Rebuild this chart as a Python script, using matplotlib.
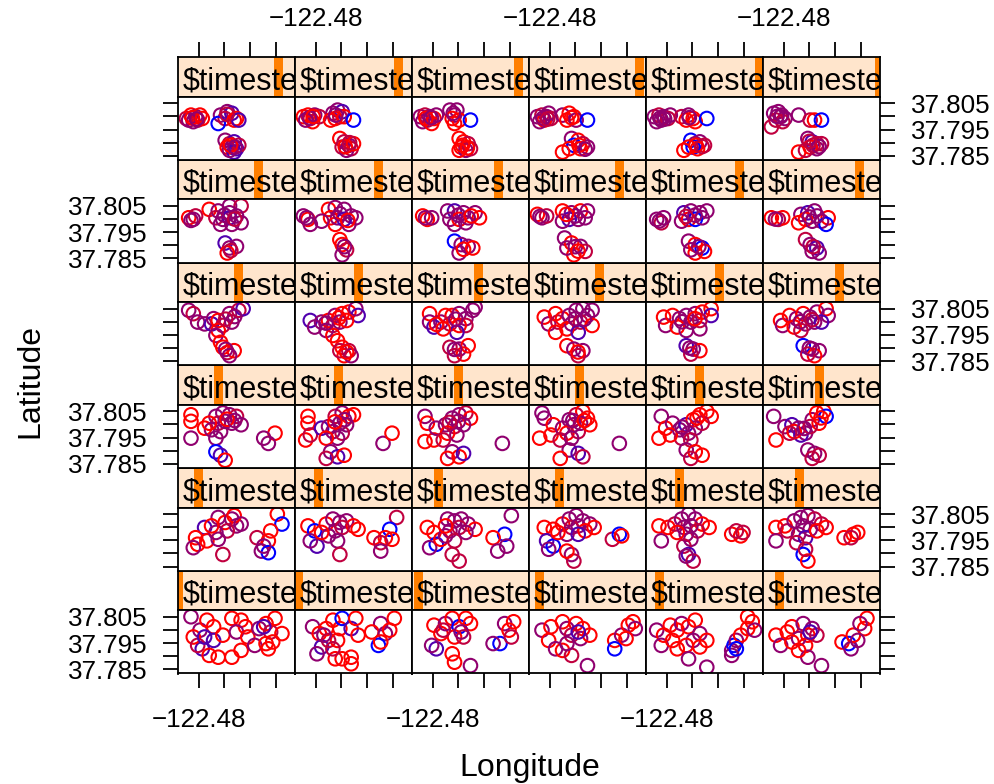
import matplotlib
matplotlib.use("Agg")
import matplotlib.pyplot as plt
from matplotlib.patches import Rectangle

plt.rcParams['font.family'] = ['Liberation Sans', 'DejaVu Sans']

# ---------------- data ----------------
timesteps = list(range(1, 37))
strip_label = "\\$timeste"          # the visible (clipped) part of "$timestep"
lon_ticks = [-122.48, -122.47, -122.46, -122.45]
lon_ticklabels = ["\u2212122.48", "", "", ""]
lat_ticks = [37.785, 37.790, 37.795, 37.800, 37.805]
lat_ticklabels = ["37.785", "", "37.795", "", "37.805"]
lon_range = (-122.48805, -122.44253)
lat_range = (37.7834, 37.8075)
step_range = (1, 36)
group_colors = ["#FF0000", "#C0003F", "#90006F", "#5000AF", "#0000FF"]

# each point: (longitude, latitude, colour group)
p01 = [(-122.4795, 37.7999, 2), (-122.4786, 37.7928, 3), (-122.4768, 37.8037, 0), (-122.4742, 37.8012, 0),
       (-122.4742, 37.7960, 3), (-122.4821, 37.7973, 0), (-122.4804, 37.7941, 1), (-122.4759, 37.7903, 0),
       (-122.4724, 37.7896, 0), (-122.4671, 37.7896, 0), (-122.4706, 37.7980, 0), (-122.4671, 37.8044, 0),
       (-122.4635, 37.8037, 0), (-122.4618, 37.8012, 0), (-122.4653, 37.7992, 2), (-122.4609, 37.7973, 0),
       (-122.4635, 37.7922, 0), (-122.4565, 37.8005, 2), (-122.4538, 37.8024, 0), (-122.4520, 37.7992, 1),
       (-122.4503, 37.8044, 0), (-122.4476, 37.7986, 0), (-122.4582, 37.7941, 2), (-122.4538, 37.7948, 0),
       (-122.4529, 37.7928, 0), (-122.4512, 37.7954, 0), (-122.4547, 37.8012, 3), (-122.4830, 37.8050, 2),
       (-122.4777, 37.7973, 3)]
p02 = [(-122.4812, 37.8012, 2), (-122.4786, 37.7986, 0), (-122.4777, 37.7935, 3), (-122.4795, 37.7909, 2),
       (-122.4759, 37.8005, 0), (-122.4733, 37.8037, 0), (-122.4706, 37.8005, 0), (-122.4697, 37.8044, 4),
       (-122.4662, 37.8005, 3), (-122.4644, 37.8044, 0), (-122.4635, 37.7980, 0), (-122.4750, 37.7960, 1),
       (-122.4715, 37.7960, 0), (-122.4724, 37.7890, 0), (-122.4697, 37.7890, 0), (-122.4662, 37.7896, 0),
       (-122.4662, 37.7871, 0), (-122.4733, 37.7928, 1), (-122.4547, 37.8024, 2), (-122.4582, 37.7992, 0),
       (-122.4529, 37.7986, 2), (-122.4494, 37.8044, 0), (-122.4512, 37.7999, 0), (-122.4556, 37.7941, 4),
       (-122.4547, 37.7954, 0), (-122.4768, 37.7980, 2)]
p03 = [(-122.4795, 37.8018, 0), (-122.4768, 37.7986, 0), (-122.4786, 37.7928, 3), (-122.4804, 37.7941, 2),
       (-122.4750, 37.8024, 2), (-122.4724, 37.8044, 0), (-122.4697, 37.8012, 4), (-122.4671, 37.8044, 0),
       (-122.4653, 37.8024, 0), (-122.4715, 37.7973, 0), (-122.4680, 37.7973, 1), (-122.4724, 37.7909, 0),
       (-122.4715, 37.7877, 0), (-122.4653, 37.7864, 2), (-122.4520, 37.8024, 2), (-122.4485, 37.8031, 0),
       (-122.4503, 37.7999, 0), (-122.4538, 37.7948, 4), (-122.4565, 37.7948, 2), (-122.4494, 37.7973, 1),
       (-122.4759, 37.7999, 1), (-122.4689, 37.7992, 2)]
p04 = [(-122.4830, 37.7999, 2), (-122.4795, 37.8012, 0), (-122.4804, 37.7960, 0), (-122.4777, 37.7928, 2),
       (-122.4750, 37.8031, 0), (-122.4733, 37.8005, 2), (-122.4697, 37.8024, 0), (-122.4671, 37.8005, 0),
       (-122.4715, 37.7980, 1), (-122.4680, 37.7967, 2), (-122.4644, 37.7980, 0), (-122.4750, 37.7922, 0),
       (-122.4715, 37.7903, 1), (-122.4653, 37.7864, 2), (-122.4733, 37.7948, 2), (-122.4547, 37.7960, 0),
       (-122.4547, 37.7928, 4), (-122.4520, 37.7980, 2), (-122.4494, 37.8018, 0), (-122.4476, 37.8031, 0),
       (-122.4467, 37.8005, 2), (-122.4503, 37.7967, 0), (-122.4689, 37.7992, 3)]
p05 = [(-122.4839, 37.7999, 2), (-122.4812, 37.7980, 0), (-122.4821, 37.7941, 2), (-122.4786, 37.8018, 0),
       (-122.4759, 37.7999, 0), (-122.4777, 37.7960, 0), (-122.4742, 37.8024, 2), (-122.4715, 37.8012, 0),
       (-122.4689, 37.8037, 0), (-122.4671, 37.7986, 2), (-122.4697, 37.7960, 2), (-122.4724, 37.7941, 0),
       (-122.4759, 37.7928, 0), (-122.4644, 37.7960, 0), (-122.4715, 37.7890, 2), (-122.4644, 37.7858, 2),
       (-122.4671, 37.7935, 0), (-122.4547, 37.7922, 2), (-122.4538, 37.7941, 4), (-122.4529, 37.7960, 2),
       (-122.4512, 37.7980, 0), (-122.4485, 37.8005, 0), (-122.4467, 37.8031, 0), (-122.4458, 37.7999, 2),
       (-122.4485, 37.8050, 0), (-122.4547, 37.7903, 2), (-122.4529, 37.7928, 4)]
p06 = [(-122.4830, 37.7980, 0), (-122.4812, 37.7941, 2), (-122.4786, 37.7992, 0), (-122.4768, 37.8012, 0),
       (-122.4724, 37.8024, 2), (-122.4689, 37.8005, 2), (-122.4706, 37.7980, 0), (-122.4742, 37.7967, 2),
       (-122.4768, 37.7954, 0), (-122.4715, 37.7941, 0), (-122.4671, 37.7980, 1), (-122.4706, 37.7896, 2),
       (-122.4653, 37.7864, 2), (-122.4742, 37.7922, 0), (-122.4573, 37.7954, 0), (-122.4547, 37.7948, 4),
       (-122.4538, 37.7928, 2), (-122.4529, 37.7980, 0), (-122.4485, 37.8005, 0), (-122.4476, 37.8044, 0),
       (-122.4503, 37.8024, 2), (-122.4512, 37.7960, 2), (-122.4697, 37.7992, 3)]
p07 = [(-122.4777, 37.7999, 3), (-122.4812, 37.7960, 0), (-122.4804, 37.7935, 0), (-122.4821, 37.7922, 2),
       (-122.4768, 37.7948, 0), (-122.4724, 37.8037, 2), (-122.4697, 37.8018, 0), (-122.4671, 37.8031, 2),
       (-122.4653, 37.8005, 2), (-122.4689, 37.7986, 1), (-122.4733, 37.7980, 2), (-122.4724, 37.7954, 2),
       (-122.4662, 37.8044, 0), (-122.4635, 37.8012, 2), (-122.4750, 37.8005, 0), (-122.4706, 37.7896, 1),
       (-122.4494, 37.8050, 0), (-122.4476, 37.8012, 4), (-122.4520, 37.7986, 0), (-122.4573, 37.7960, 1),
       (-122.4529, 37.7948, 0), (-122.4556, 37.7909, 2), (-122.4529, 37.7903, 4), (-122.4547, 37.7928, 2)]
p08 = [(-122.4830, 37.8005, 0), (-122.4804, 37.7986, 4), (-122.4795, 37.7928, 3), (-122.4821, 37.7948, 2),
       (-122.4759, 37.8012, 0), (-122.4733, 37.8031, 2), (-122.4706, 37.8018, 2), (-122.4680, 37.8024, 2),
       (-122.4653, 37.8005, 0), (-122.4724, 37.7986, 2), (-122.4750, 37.7967, 2), (-122.4697, 37.7999, 1),
       (-122.4777, 37.7980, 0), (-122.4635, 37.7992, 0), (-122.4715, 37.7948, 2), (-122.4706, 37.7896, 1),
       (-122.4485, 37.8037, 1), (-122.4512, 37.7992, 4), (-122.4573, 37.7960, 0), (-122.4529, 37.7960, 0),
       (-122.4503, 37.7954, 0), (-122.4547, 37.7941, 1), (-122.4547, 37.7909, 2)]
p09 = [(-122.4821, 37.7999, 0), (-122.4795, 37.7980, 0), (-122.4786, 37.7935, 4), (-122.4812, 37.7922, 2),
       (-122.4768, 37.7954, 0), (-122.4742, 37.8031, 2), (-122.4715, 37.8024, 2), (-122.4689, 37.8031, 2),
       (-122.4662, 37.8012, 2), (-122.4635, 37.7992, 0), (-122.4733, 37.7986, 2), (-122.4697, 37.7999, 1),
       (-122.4750, 37.7967, 2), (-122.4715, 37.7948, 1), (-122.4671, 37.7980, 2), (-122.4724, 37.7896, 1),
       (-122.4697, 37.7871, 1), (-122.4494, 37.8044, 2), (-122.4520, 37.7973, 4), (-122.4565, 37.7960, 0),
       (-122.4547, 37.7909, 2), (-122.4512, 37.7928, 2), (-122.4750, 37.8005, 0)]
p10 = [(-122.4821, 37.7999, 0), (-122.4786, 37.7992, 0), (-122.4812, 37.7948, 3), (-122.4786, 37.7928, 4),
       (-122.4804, 37.7916, 2), (-122.4750, 37.8012, 0), (-122.4724, 37.8031, 2), (-122.4697, 37.8044, 2),
       (-122.4671, 37.8024, 2), (-122.4644, 37.8012, 2), (-122.4715, 37.7999, 1), (-122.4689, 37.8005, 2),
       (-122.4662, 37.7986, 0), (-122.4733, 37.7973, 2), (-122.4768, 37.7980, 0), (-122.4689, 37.7973, 3),
       (-122.4627, 37.7999, 0), (-122.4715, 37.7896, 2), (-122.4706, 37.7871, 1), (-122.4733, 37.7909, 0),
       (-122.4556, 37.7954, 1), (-122.4529, 37.7973, 4), (-122.4520, 37.7967, 0)]
p11 = [(-122.4830, 37.8005, 0), (-122.4821, 37.7948, 2), (-122.4795, 37.7999, 0), (-122.4768, 37.8012, 1),
       (-122.4742, 37.8031, 2), (-122.4715, 37.8050, 2), (-122.4689, 37.8031, 2), (-122.4662, 37.8012, 0),
       (-122.4635, 37.7999, 0), (-122.4733, 37.7999, 2), (-122.4706, 37.8005, 2), (-122.4680, 37.7986, 1),
       (-122.4724, 37.7973, 2), (-122.4759, 37.7980, 0), (-122.4706, 37.7954, 2), (-122.4733, 37.7928, 1),
       (-122.4715, 37.7896, 3), (-122.4697, 37.7871, 1), (-122.4724, 37.7890, 2), (-122.4547, 37.7973, 0),
       (-122.4512, 37.7967, 0), (-122.4529, 37.7986, 1), (-122.4503, 37.7980, 1)]
p12 = [(-122.4830, 37.7999, 0), (-122.4795, 37.8005, 0), (-122.4830, 37.7948, 2), (-122.4786, 37.7986, 1),
       (-122.4759, 37.8024, 2), (-122.4733, 37.8037, 2), (-122.4706, 37.8044, 2), (-122.4680, 37.8031, 1),
       (-122.4653, 37.8012, 1), (-122.4635, 37.7999, 0), (-122.4724, 37.8005, 2), (-122.4697, 37.7992, 2),
       (-122.4742, 37.7973, 2), (-122.4715, 37.7960, 3), (-122.4750, 37.7941, 1), (-122.4671, 37.7986, 0),
       (-122.4724, 37.7896, 4), (-122.4706, 37.7871, 0), (-122.4715, 37.7916, 1), (-122.4565, 37.7960, 0),
       (-122.4529, 37.7973, 0), (-122.4512, 37.7980, 0), (-122.4538, 37.7960, 1)]
p13 = [(-122.4830, 37.8037, 0), (-122.4830, 37.8012, 0), (-122.4830, 37.7948, 2), (-122.4777, 37.7986, 0),
       (-122.4733, 37.8031, 2), (-122.4706, 37.8044, 2), (-122.4680, 37.8037, 2), (-122.4653, 37.8031, 1),
       (-122.4635, 37.7999, 2), (-122.4724, 37.8005, 1), (-122.4697, 37.8012, 2), (-122.4671, 37.8005, 2),
       (-122.4750, 37.7980, 2), (-122.4715, 37.7973, 2), (-122.4733, 37.7948, 2), (-122.4759, 37.8005, 0),
       (-122.4733, 37.7896, 4), (-122.4715, 37.7883, 3), (-122.4697, 37.7864, 0), (-122.4503, 37.7967, 0),
       (-122.4547, 37.7948, 2), (-122.4529, 37.7928, 2), (-122.4690, 37.8020, 0), (-122.4660, 37.8015, 2)]
p14 = [(-122.4830, 37.8031, 0), (-122.4830, 37.8005, 0), (-122.4839, 37.7941, 0), (-122.4821, 37.7960, 1),
       (-122.4777, 37.7986, 3), (-122.4750, 37.7992, 2), (-122.4724, 37.8031, 1), (-122.4697, 37.8044, 2),
       (-122.4671, 37.8031, 0), (-122.4653, 37.8037, 0), (-122.4706, 37.8005, 2), (-122.4680, 37.7999, 2),
       (-122.4733, 37.7973, 2), (-122.4697, 37.7967, 1), (-122.4715, 37.7948, 2), (-122.4759, 37.7948, 0),
       (-122.4742, 37.7896, 2), (-122.4715, 37.7877, 3), (-122.4689, 37.7883, 0), (-122.4759, 37.7871, 1),
       (-122.4538, 37.7928, 2), (-122.4503, 37.7967, 0), (-122.4688, 37.8018, 2), (-122.4725, 37.8010, 0)]
p15 = [(-122.4830, 37.8031, 2), (-122.4821, 37.8005, 0), (-122.4830, 37.7935, 0), (-122.4795, 37.7941, 0),
       (-122.4786, 37.7986, 2), (-122.4750, 37.7999, 2), (-122.4724, 37.8024, 2), (-122.4697, 37.8037, 2),
       (-122.4671, 37.8044, 1), (-122.4653, 37.8024, 0), (-122.4715, 37.7992, 1), (-122.4680, 37.7999, 2),
       (-122.4742, 37.7967, 0), (-122.4706, 37.7960, 2), (-122.4759, 37.7941, 1), (-122.4724, 37.7896, 2),
       (-122.4697, 37.7877, 0), (-122.4742, 37.7871, 0), (-122.4680, 37.7890, 3), (-122.4529, 37.7928, 2),
       (-122.4700, 37.8012, 2), (-122.4735, 37.8008, 1)]
p16 = [(-122.4830, 37.8044, 2), (-122.4821, 37.8024, 2), (-122.4839, 37.7948, 0), (-122.4795, 37.7960, 0),
       (-122.4786, 37.7999, 0), (-122.4750, 37.7986, 2), (-122.4724, 37.8018, 2), (-122.4697, 37.8037, 1),
       (-122.4671, 37.8050, 0), (-122.4653, 37.8024, 0), (-122.4706, 37.7999, 2), (-122.4680, 37.8005, 2),
       (-122.4733, 37.7967, 0), (-122.4689, 37.7973, 1), (-122.4644, 37.7999, 0), (-122.4759, 37.7941, 1),
       (-122.4715, 37.7948, 2), (-122.4724, 37.7903, 2), (-122.4689, 37.7890, 3), (-122.4759, 37.7871, 0),
       (-122.4671, 37.7877, 1), (-122.4529, 37.7928, 2), (-122.4710, 37.8015, 2), (-122.4665, 37.8015, 0)]
p17 = [(-122.4821, 37.8031, 2), (-122.4830, 37.7948, 0), (-122.4804, 37.7986, 0), (-122.4777, 37.8005, 2),
       (-122.4750, 37.7980, 2), (-122.4724, 37.7999, 3), (-122.4697, 37.8018, 0), (-122.4671, 37.8037, 0),
       (-122.4644, 37.8050, 0), (-122.4627, 37.8031, 0), (-122.4689, 37.7986, 2), (-122.4715, 37.7967, 2),
       (-122.4742, 37.7948, 1), (-122.4662, 37.8005, 1), (-122.4786, 37.7960, 0), (-122.4706, 37.7941, 1),
       (-122.4724, 37.7903, 2), (-122.4689, 37.7896, 0), (-122.4662, 37.7883, 0), (-122.4706, 37.7871, 1),
       (-122.4682, 37.8025, 0), (-122.4740, 37.7990, 2)]
p18 = [(-122.4839, 37.8031, 2), (-122.4830, 37.7941, 0), (-122.4795, 37.7992, 2), (-122.4768, 37.7999, 3),
       (-122.4742, 37.7986, 2), (-122.4715, 37.7967, 2), (-122.4733, 37.7960, 3), (-122.4689, 37.8018, 2),
       (-122.4671, 37.8044, 0), (-122.4644, 37.8050, 0), (-122.4635, 37.8031, 4), (-122.4662, 37.8005, 0),
       (-122.4697, 37.7992, 1), (-122.4759, 37.7973, 0), (-122.4777, 37.7967, 1), (-122.4706, 37.7903, 2),
       (-122.4680, 37.7890, 2), (-122.4689, 37.7871, 1), (-122.4662, 37.7883, 1), (-122.4655, 37.8025, 0),
       (-122.4720, 37.7985, 2)]
p19 = [(-122.4839, 37.8044, 2), (-122.4821, 37.8031, 1), (-122.4804, 37.7999, 2), (-122.4777, 37.7992, 2),
       (-122.4750, 37.7992, 3), (-122.4742, 37.8012, 2), (-122.4724, 37.8005, 0), (-122.4706, 37.7986, 1),
       (-122.4671, 37.7999, 2), (-122.4680, 37.8031, 2), (-122.4644, 37.8044, 1), (-122.4627, 37.8050, 3),
       (-122.4724, 37.7967, 0), (-122.4733, 37.7948, 2), (-122.4706, 37.7903, 0), (-122.4689, 37.7883, 1),
       (-122.4662, 37.7890, 0), (-122.4680, 37.7871, 2), (-122.4715, 37.7922, 0), (-122.4660, 37.8020, 2),
       (-122.4695, 37.8010, 1), (-122.4695, 37.7895, 2)]
p20 = [(-122.4821, 37.8005, 3), (-122.4804, 37.7980, 2), (-122.4777, 37.7999, 2), (-122.4750, 37.8005, 0),
       (-122.4724, 37.8024, 2), (-122.4697, 37.8031, 0), (-122.4671, 37.8037, 0), (-122.4644, 37.8050, 2),
       (-122.4635, 37.8024, 3), (-122.4733, 37.7986, 1), (-122.4706, 37.7999, 2), (-122.4680, 37.8005, 0),
       (-122.4759, 37.7967, 2), (-122.4733, 37.7948, 0), (-122.4715, 37.7928, 0), (-122.4697, 37.7903, 0),
       (-122.4671, 37.7890, 1), (-122.4689, 37.7871, 0), (-122.4662, 37.7871, 2), (-122.4706, 37.7890, 1),
       (-122.4710, 37.8015, 0), (-122.4760, 37.7995, 2), (-122.4680, 37.7885, 0)]
p21 = [(-122.4812, 37.8031, 0), (-122.4812, 37.7999, 2), (-122.4795, 37.7980, 3), (-122.4768, 37.7999, 2),
       (-122.4750, 37.8024, 0), (-122.4724, 37.8024, 0), (-122.4697, 37.8031, 2), (-122.4671, 37.8012, 2),
       (-122.4644, 37.8044, 2), (-122.4635, 37.8056, 2), (-122.4733, 37.7992, 1), (-122.4697, 37.7986, 0),
       (-122.4671, 37.7986, 1), (-122.4706, 37.7960, 3), (-122.4759, 37.7973, 0), (-122.4733, 37.7903, 1),
       (-122.4697, 37.7896, 2), (-122.4662, 37.7909, 0), (-122.4680, 37.7877, 0), (-122.4715, 37.7871, 1),
       (-122.4710, 37.8010, 2), (-122.4785, 37.7990, 0), (-122.4715, 37.7895, 2)]
p22 = [(-122.4821, 37.8018, 0), (-122.4804, 37.7992, 2), (-122.4777, 37.8031, 0), (-122.4768, 37.7999, 1),
       (-122.4750, 37.8012, 0), (-122.4724, 37.8024, 2), (-122.4697, 37.8044, 2), (-122.4671, 37.8050, 2),
       (-122.4653, 37.8024, 2), (-122.4635, 37.8044, 2), (-122.4715, 37.7992, 2), (-122.4680, 37.7999, 1),
       (-122.4733, 37.7973, 0), (-122.4689, 37.7960, 3), (-122.4777, 37.7960, 0), (-122.4635, 37.7986, 0),
       (-122.4733, 37.7909, 0), (-122.4706, 37.7896, 2), (-122.4671, 37.7890, 2), (-122.4689, 37.7871, 1),
       (-122.4700, 37.8012, 2), (-122.4665, 37.8010, 2), (-122.4690, 37.7885, 0)]
p23 = [(-122.4812, 37.8018, 0), (-122.4804, 37.7986, 2), (-122.4777, 37.8024, 0), (-122.4750, 37.8012, 2),
       (-122.4724, 37.8024, 2), (-122.4689, 37.8031, 2), (-122.4662, 37.8037, 0), (-122.4627, 37.8050, 0),
       (-122.4627, 37.8024, 3), (-122.4706, 37.7999, 2), (-122.4671, 37.8005, 1), (-122.4759, 37.7980, 0),
       (-122.4724, 37.7967, 2), (-122.4671, 37.7973, 2), (-122.4724, 37.7909, 3), (-122.4697, 37.7896, 2),
       (-122.4671, 37.7890, 0), (-122.4706, 37.7877, 1), (-122.4740, 37.8000, 2), (-122.4690, 37.8012, 0),
       (-122.4710, 37.7900, 2)]
p24 = [(-122.4812, 37.8005, 0), (-122.4804, 37.7986, 2), (-122.4777, 37.8024, 0), (-122.4750, 37.8012, 2),
       (-122.4724, 37.8031, 0), (-122.4697, 37.8018, 2), (-122.4671, 37.8037, 2), (-122.4635, 37.8050, 0),
       (-122.4627, 37.8024, 2), (-122.4715, 37.7992, 2), (-122.4680, 37.7999, 2), (-122.4653, 37.7999, 3),
       (-122.4759, 37.7980, 0), (-122.4733, 37.7967, 1), (-122.4724, 37.7909, 4), (-122.4689, 37.7896, 2),
       (-122.4662, 37.7890, 2), (-122.4680, 37.7871, 0), (-122.4706, 37.7877, 1), (-122.4735, 37.8000, 2),
       (-122.4690, 37.8008, 1), (-122.4700, 37.7900, 2)]
p25 = [(-122.4839, 37.8005, 0), (-122.4821, 37.7999, 2), (-122.4812, 37.8012, 1), (-122.4759, 37.8037, 0),
       (-122.4724, 37.8031, 2), (-122.4680, 37.8050, 2), (-122.4635, 37.8050, 1), (-122.4733, 37.8005, 1),
       (-122.4706, 37.7999, 2), (-122.4680, 37.8005, 3), (-122.4653, 37.8012, 2), (-122.4635, 37.7986, 2),
       (-122.4671, 37.7980, 2), (-122.4715, 37.7980, 2), (-122.4680, 37.8024, 2), (-122.4697, 37.7909, 3),
       (-122.4680, 37.7890, 2), (-122.4653, 37.7896, 2), (-122.4689, 37.7871, 0), (-122.4700, 37.8015, 2),
       (-122.4660, 37.8000, 1), (-122.4675, 37.7880, 1), (-122.4830, 37.7995, 2)]
p26 = [(-122.4848, 37.8012, 2), (-122.4830, 37.7999, 0), (-122.4821, 37.7980, 2), (-122.4750, 37.8037, 0),
       (-122.4724, 37.8044, 2), (-122.4689, 37.8037, 2), (-122.4662, 37.8012, 2), (-122.4644, 37.8005, 2),
       (-122.4742, 37.8005, 0), (-122.4715, 37.8005, 2), (-122.4689, 37.7999, 3), (-122.4724, 37.7980, 0),
       (-122.4671, 37.7980, 2), (-122.4777, 37.7992, 2), (-122.4706, 37.7922, 0), (-122.4697, 37.7903, 0),
       (-122.4680, 37.7883, 1), (-122.4697, 37.7864, 2), (-122.4705, 37.8020, 2), (-122.4675, 37.7995, 0),
       (-122.4688, 37.7895, 2), (-122.4835, 37.8005, 2)]
p27 = [(-122.4839, 37.8012, 0), (-122.4821, 37.7999, 0), (-122.4804, 37.8005, 2), (-122.4742, 37.8031, 2),
       (-122.4715, 37.8031, 3), (-122.4680, 37.8024, 2), (-122.4635, 37.8024, 2), (-122.4618, 37.8005, 0),
       (-122.4733, 37.7999, 2), (-122.4697, 37.7999, 0), (-122.4662, 37.8005, 2), (-122.4715, 37.7980, 2),
       (-122.4671, 37.7986, 2), (-122.4715, 37.7916, 4), (-122.4689, 37.7903, 2), (-122.4662, 37.7896, 2),
       (-122.4697, 37.7871, 2), (-122.4644, 37.7890, 0), (-122.4700, 37.8015, 2), (-122.4650, 37.8012, 0),
       (-122.4680, 37.7885, 0), (-122.4828, 37.8005, 2)]
p28 = [(-122.4848, 37.8018, 0), (-122.4830, 37.8005, 2), (-122.4812, 37.8012, 1), (-122.4750, 37.8031, 0),
       (-122.4715, 37.8024, 2), (-122.4680, 37.8031, 0), (-122.4653, 37.8031, 2), (-122.4724, 37.7999, 3),
       (-122.4689, 37.7999, 2), (-122.4662, 37.8005, 2), (-122.4750, 37.7992, 2), (-122.4742, 37.7928, 2),
       (-122.4715, 37.7909, 0), (-122.4680, 37.7896, 2), (-122.4662, 37.7877, 1), (-122.4706, 37.7864, 0),
       (-122.4733, 37.7890, 2), (-122.4700, 37.8012, 2), (-122.4735, 37.8018, 0), (-122.4700, 37.7895, 2),
       (-122.4690, 37.7878, 0), (-122.4838, 37.8010, 2)]
p29 = [(-122.4839, 37.7999, 2), (-122.4821, 37.7986, 1), (-122.4812, 37.8005, 2), (-122.4733, 37.8024, 3),
       (-122.4706, 37.8031, 2), (-122.4671, 37.8024, 2), (-122.4644, 37.8031, 2), (-122.4715, 37.7999, 0),
       (-122.4689, 37.7999, 4), (-122.4662, 37.8005, 2), (-122.4742, 37.7992, 2), (-122.4715, 37.7916, 2),
       (-122.4689, 37.7903, 0), (-122.4662, 37.7890, 4), (-122.4689, 37.7871, 0), (-122.4653, 37.7877, 0),
       (-122.4706, 37.7883, 2), (-122.4690, 37.8015, 2), (-122.4725, 37.8010, 1), (-122.4675, 37.7895, 2),
       (-122.4828, 37.7993, 2)]
p30 = [(-122.4848, 37.8005, 0), (-122.4821, 37.7999, 1), (-122.4804, 37.8005, 0), (-122.4733, 37.8018, 2),
       (-122.4706, 37.8024, 3), (-122.4680, 37.8031, 2), (-122.4627, 37.8005, 0), (-122.4715, 37.7999, 0),
       (-122.4689, 37.7992, 2), (-122.4653, 37.7992, 2), (-122.4635, 37.7980, 4), (-122.4742, 37.7986, 0),
       (-122.4715, 37.7922, 1), (-122.4697, 37.7903, 2), (-122.4671, 37.7890, 3), (-122.4662, 37.7871, 2),
       (-122.4689, 37.7877, 2), (-122.4670, 37.8012, 2), (-122.4700, 37.8008, 2), (-122.4685, 37.7895, 1),
       (-122.4832, 37.8000, 2)]
p31 = [(-122.4848, 37.7992, 1), (-122.4830, 37.8005, 0), (-122.4812, 37.7999, 2), (-122.4804, 37.7986, 1),
       (-122.4821, 37.7980, 2), (-122.4795, 37.8005, 0), (-122.4839, 37.7986, 2), (-122.4786, 37.7992, 0),
       (-122.4715, 37.8005, 2), (-122.4689, 37.8018, 2), (-122.4671, 37.8012, 3), (-122.4697, 37.7992, 1),
       (-122.4662, 37.7986, 0), (-122.4653, 37.7992, 0), (-122.4724, 37.7973, 4), (-122.4644, 37.7986, 3),
       (-122.4697, 37.7909, 2), (-122.4680, 37.7896, 1), (-122.4662, 37.7903, 3), (-122.4671, 37.7883, 2),
       (-122.4653, 37.7877, 3), (-122.4689, 37.7883, 0), (-122.4644, 37.7890, 1), (-122.4662, 37.7864, 3),
       (-122.4680, 37.7871, 2), (-122.4825, 37.7995, 0), (-122.4808, 37.7990, 2), (-122.4676, 37.7890, 0),
       (-122.4658, 37.7883, 2), (-122.4690, 37.8008, 1)]
p32 = [(-122.4848, 37.7999, 0), (-122.4830, 37.8005, 0), (-122.4821, 37.7992, 1), (-122.4804, 37.8005, 2),
       (-122.4812, 37.7980, 0), (-122.4786, 37.7999, 1), (-122.4839, 37.7986, 2), (-122.4733, 37.8012, 2),
       (-122.4715, 37.8024, 2), (-122.4697, 37.8018, 3), (-122.4724, 37.7992, 0), (-122.4706, 37.7999, 1),
       (-122.4742, 37.7986, 0), (-122.4689, 37.7999, 0), (-122.4653, 37.7986, 4), (-122.4706, 37.7916, 0),
       (-122.4689, 37.7903, 1), (-122.4671, 37.7890, 2), (-122.4697, 37.7883, 1), (-122.4662, 37.7877, 1),
       (-122.4680, 37.7871, 2), (-122.4653, 37.7896, 0), (-122.4825, 37.7995, 2), (-122.4810, 37.8000, 0),
       (-122.4685, 37.7885, 0), (-122.4668, 37.7900, 1), (-122.4722, 37.8005, 2)]
p33 = [(-122.4848, 37.7999, 2), (-122.4830, 37.8005, 1), (-122.4812, 37.7999, 2), (-122.4821, 37.7986, 1),
       (-122.4795, 37.7992, 0), (-122.4839, 37.7980, 2), (-122.4804, 37.7973, 0), (-122.4786, 37.8005, 2),
       (-122.4733, 37.8024, 2), (-122.4706, 37.8024, 2), (-122.4715, 37.8005, 2), (-122.4724, 37.7992, 0),
       (-122.4697, 37.7986, 0), (-122.4715, 37.7973, 0), (-122.4653, 37.7986, 4), (-122.4697, 37.7916, 0),
       (-122.4680, 37.7903, 0), (-122.4662, 37.7896, 1), (-122.4689, 37.7883, 0), (-122.4671, 37.7871, 2),
       (-122.4653, 37.7877, 1), (-122.4697, 37.7871, 0), (-122.4826, 37.7993, 0), (-122.4805, 37.7995, 2),
       (-122.4684, 37.7890, 0), (-122.4665, 37.7880, 0), (-122.4720, 37.8012, 2)]
p34 = [(-122.4848, 37.7999, 2), (-122.4830, 37.8005, 1), (-122.4812, 37.7999, 2), (-122.4821, 37.7986, 0),
       (-122.4795, 37.7992, 1), (-122.4839, 37.7980, 2), (-122.4804, 37.8012, 2), (-122.4750, 37.8005, 2),
       (-122.4724, 37.8012, 0), (-122.4706, 37.7999, 0), (-122.4733, 37.7986, 0), (-122.4697, 37.7986, 2),
       (-122.4653, 37.7986, 4), (-122.4715, 37.7916, 2), (-122.4689, 37.7909, 0), (-122.4671, 37.7896, 1),
       (-122.4706, 37.7890, 4), (-122.4680, 37.7877, 0), (-122.4653, 37.7883, 2), (-122.4750, 37.7864, 0),
       (-122.4724, 37.7877, 0), (-122.4826, 37.7993, 2), (-122.4808, 37.7990, 1), (-122.4686, 37.7890, 0),
       (-122.4662, 37.7875, 2), (-122.4715, 37.7995, 0)]
p35 = [(-122.4848, 37.7999, 2), (-122.4830, 37.8005, 1), (-122.4812, 37.7999, 2), (-122.4821, 37.7986, 2),
       (-122.4795, 37.7992, 1), (-122.4839, 37.7980, 2), (-122.4786, 37.8005, 2), (-122.4742, 37.7999, 1),
       (-122.4715, 37.8005, 2), (-122.4724, 37.7986, 0), (-122.4697, 37.7992, 0), (-122.4689, 37.7980, 0),
       (-122.4644, 37.7992, 4), (-122.4706, 37.7909, 4), (-122.4689, 37.7896, 2), (-122.4671, 37.7903, 2),
       (-122.4653, 37.7890, 1), (-122.4697, 37.7883, 4), (-122.4680, 37.7877, 0), (-122.4733, 37.7871, 0),
       (-122.4715, 37.7883, 0), (-122.4826, 37.7993, 2), (-122.4808, 37.7990, 2), (-122.4686, 37.7890, 0),
       (-122.4662, 37.7885, 1), (-122.4712, 37.7995, 2)]
p36 = [(-122.4839, 37.8012, 2), (-122.4821, 37.8018, 2), (-122.4812, 37.7999, 2), (-122.4830, 37.7986, 1),
       (-122.4795, 37.7992, 2), (-122.4804, 37.7980, 1), (-122.4848, 37.7960, 1), (-122.4742, 37.8005, 2),
       (-122.4697, 37.7986, 1), (-122.4680, 37.7986, 0), (-122.4653, 37.7986, 4), (-122.4706, 37.7916, 2),
       (-122.4689, 37.7903, 3), (-122.4671, 37.7896, 1), (-122.4653, 37.7896, 1), (-122.4697, 37.7883, 0),
       (-122.4671, 37.7877, 2), (-122.4742, 37.7864, 0), (-122.4715, 37.7871, 1), (-122.4826, 37.8000, 2),
       (-122.4808, 37.8005, 2), (-122.4686, 37.7890, 1), (-122.4662, 37.7885, 2), (-122.4700, 37.7905, 1)]

panels = [p01, p02, p03, p04, p05, p06, p07, p08, p09, p10, p11, p12,
          p13, p14, p15, p16, p17, p18, p19, p20, p21, p22, p23, p24,
          p25, p26, p27, p28, p29, p30, p31, p32, p33, p34, p35, p36]

# ---------------- layout (pixels) ----------------
W, H = 994, 784
COL_LEFT0, COL_W = 178.0, 117.0
ROW_TOP0, ROW_H = 57.3, 102.7
STRIP_H, PANEL_H = 39.4, 63.3
NCOL, NROW = 6, 6
TICK_FS, STRIP_FS, LAB_FS = 18.7, 22, 23
LW = 1.3

fig = plt.figure(figsize=(W / 100, H / 100), dpi=100)


def rect(x, top, w, h):
    return [x / W, 1 - (top + h) / H, w / W, h / H]


for k, (t, pts) in enumerate(zip(timesteps, panels)):
    rb = k // NCOL            # row counted from bottom
    col = k % NCOL
    r = NROW - 1 - rb         # row counted from top
    x0 = COL_LEFT0 + col * COL_W
    st = ROW_TOP0 + r * ROW_H

    # strip
    sax = fig.add_axes(rect(x0, st, COL_W, STRIP_H))
    sax.set_xlim(step_range)
    sax.set_ylim(0, 1)
    sax.set_facecolor("#FFE5CC")
    sax.add_patch(Rectangle((t - 1.35, 0), 2.7, 1, facecolor="#FF7F00",
                            edgecolor="none", zorder=1))
    sax.text(5 / COL_W, 0.19, strip_label, transform=sax.transAxes,
             fontsize=STRIP_FS, ha="left", va="baseline", clip_on=True, zorder=3)
    sax.set_xticks([])
    sax.set_yticks([])
    for s in sax.spines.values():
        s.set_linewidth(LW)
        s.set_zorder(5)

    if r == 0:
        tax = fig.add_axes(rect(x0, st, COL_W, STRIP_H))
        tax.set_xlim(lon_range)
        tax.patch.set_visible(False)
        for s in tax.spines.values():
            s.set_visible(False)
        tax.set_yticks([])
        tax.set_xticks(lon_ticks)
        tax.set_xticklabels(lon_ticklabels)
        tax.tick_params(axis="x", direction="out", length=10.5, width=LW, pad=8.5,
                        labelsize=TICK_FS, bottom=False, labelbottom=False,
                        top=True, labeltop=(col % 2 == 1))

    # panel
    pax = fig.add_axes(rect(x0, st + STRIP_H, COL_W, PANEL_H))
    pax.set_xlim(lon_range)
    pax.set_ylim(lat_range)
    lons = [p[0] for p in pts]
    lats = [p[1] for p in pts]
    cols = [group_colors[p[2]] for p in pts]
    pax.scatter(lons, lats, s=95, facecolors="none", edgecolors=cols,
                linewidths=1.5, zorder=2)
    pax.set_xticks(lon_ticks)
    pax.set_xticklabels(lon_ticklabels)
    pax.set_yticks(lat_ticks)
    pax.set_yticklabels(lat_ticklabels)
    pax.tick_params(axis="x", direction="out", length=10.5, width=LW, pad=14,
                    labelsize=TICK_FS, top=False, labeltop=False,
                    bottom=(rb == 0), labelbottom=(rb == 0 and col % 2 == 0))
    pax.tick_params(axis="y", direction="out", length=10.5, width=LW, pad=11.5,
                    labelsize=TICK_FS, left=(col == 0),
                    labelleft=(col == 0 and rb % 2 == 0),
                    right=(col == NCOL - 1),
                    labelright=(col == NCOL - 1 and rb % 2 == 1))
    for s in pax.spines.values():
        s.set_linewidth(LW)

fig.text(530 / W, 1 - 768 / H, "Longitude", ha="center", va="center", fontsize=LAB_FS)
fig.text(30 / W, 1 - 381 / H, "Latitude", ha="center", va="center",
         rotation=90, fontsize=LAB_FS)

fig.savefig("out.png", dpi=100)
